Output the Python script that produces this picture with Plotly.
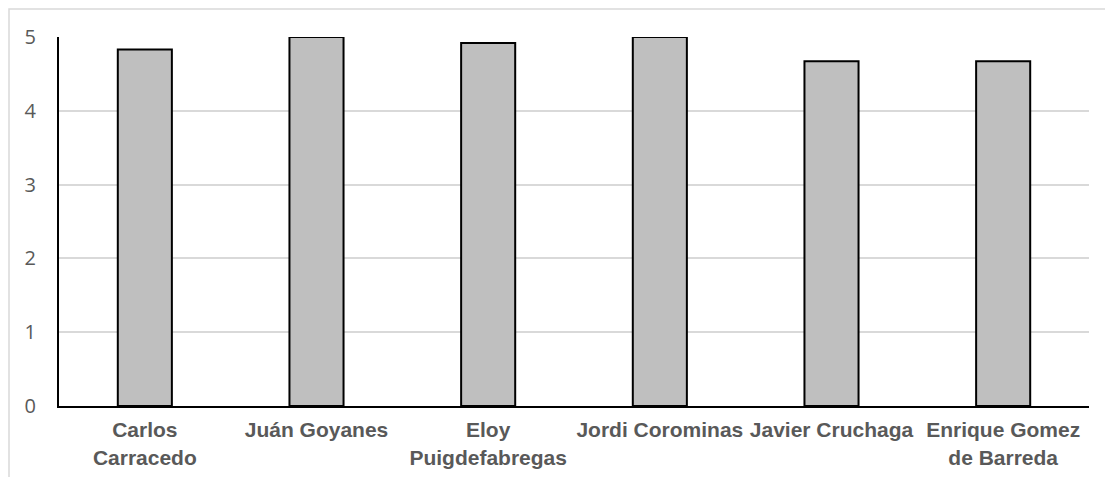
import plotly.graph_objects as go

categories = ["Carlos<br>Carracedo", "Juán Goyanes", "Eloy<br>Puigdefabregas",
              "Jordi Corominas", "Javier Cruchaga", "Enrique Gomez<br>de Barreda"]
values = [4.83, 5.0, 4.92, 5.0, 4.67, 4.67]
y_ticks = [0, 1, 2, 3, 4, 5]

fig = go.Figure(go.Bar(
    x=categories, y=values,
    marker=dict(color="#BFBFBF", line=dict(color="#000000", width=2)),
    hoverinfo="x+y",
))

fig.update_layout(
    width=1113, height=477,
    margin=dict(l=51, r=32, t=29, b=79, autoexpand=False),
    paper_bgcolor="white", plot_bgcolor="white",
    bargap=0.685,
    showlegend=False,
    shapes=[dict(type="rect", xref="paper", yref="paper",
                 x0=-50 / 1030, x1=1.1, y0=-0.3, y1=1 + 28 / 369,
                 line=dict(color="#D9D9D9", width=1.5), layer="below")],
)

fig.update_xaxes(
    showline=True, linecolor="#000000", linewidth=2,
    showgrid=False, ticks="", automargin=False,
    tickfont=dict(family="Liberation Sans, Arial", size=21, color="#595959", weight="bold"),
    ticklabelstandoff=4,
)
fig.update_yaxes(
    range=[0, 5], tickvals=y_ticks,
    showline=True, linecolor="#000000", linewidth=2,
    showgrid=True, gridcolor="#D9D9D9", gridwidth=2,
    zeroline=False, ticks="", automargin=False,
    tickfont=dict(family="Open Sans, Liberation Sans", size=20, color="#595959"),
    ticklabelstandoff=17,
)

fig.write_html("out.html")
